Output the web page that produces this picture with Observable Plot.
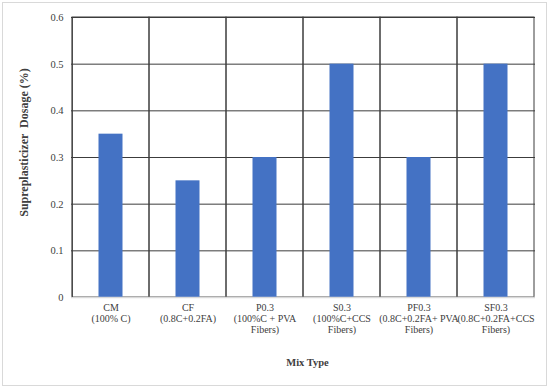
<!DOCTYPE html>
<html>
<head>
<meta charset="utf-8">
<script src="https://cdn.jsdelivr.net/npm/d3@7"></script>
<script src="https://cdn.jsdelivr.net/npm/@observablehq/plot@0.6"></script>
<style>
  html, body { margin: 0; padding: 0; background: #fff; }
  #wrap { position: relative; width: 550px; height: 389px; }
  #border { position: absolute; left: 2px; top: 2px; width: 543px; height: 382px; border: 1px solid #d9d9d9; pointer-events: none; }
  g[aria-label="ytitle"] text { letter-spacing: 1.1px; }
</style>
</head>
<body>
<div id="wrap"><div id="border"></div></div>
<script>
const mixTypes = ["CM", "CF", "P0.3", "S0.3", "PF0.3", "SF0.3"];
const mixDescriptions = [
  "(100% C)",
  "(0.8C+0.2FA)",
  "(100%C + PVA\nFibers)",
  "(100%C+CCS\nFibers)",
  "(0.8C+0.2FA+ PVA\nFibers)",
  "(0.8C+0.2FA+CCS\nFibers)"
];
const dosage = [0.35, 0.25, 0.3, 0.5, 0.3, 0.5];
const yTicks = [0, 0.1, 0.2, 0.3, 0.4, 0.5, 0.6];

const data = mixTypes.map((m, i) => ({ mix: m, desc: mixDescriptions[i], value: dosage[i] }));
const descOf = new Map(data.map(d => [d.mix, d.desc]));

const serif = "'Liberation Serif', 'Times New Roman', serif";

const chart = Plot.plot({
  width: 550,
  height: 389,
  marginLeft: 71,
  marginRight: 15,
  marginTop: 17,
  marginBottom: 92,
  style: { fontFamily: serif, background: "transparent", overflow: "visible" },
  x: { domain: mixTypes, padding: 0, label: null },
  y: { domain: [0, 0.6], label: null },
  marks: [
    Plot.ruleY(yTicks, { stroke: "#3c3c3c", strokeWidth: 1 }),
    Plot.rectY(data, { x: "mix", y1: 0, y2: 0.6, fill: "none", stroke: "#3c3c3c", strokeWidth: 1 }),
    Plot.barY(data, { x: "mix", y: "value", fill: "#4472C4", insetLeft: 26.5, insetRight: 26.5 }),
    Plot.ruleY([0], { stroke: "#d9d9d9", strokeWidth: 1.5 }),
    Plot.ruleX([mixTypes[0]], { y1: 0, y2: 0.6, stroke: "#3c3c3c", dx: -38.67 }),
    Plot.axisY({ ticks: yTicks, tickSize: 0, tickPadding: 8, tickFormat: d => String(+d.toFixed(1)), fontSize: 10.5, fill: "#404040", label: null }),
    Plot.axisX({ tickSize: 0, tickPadding: 6, tickFormat: d => d + "\n" + descOf.get(d), fontSize: 10, lineHeight: 1.1, fill: "#404040", label: null }),
    Plot.text(["Mix Type"], { frameAnchor: "bottom", dy: 68, text: d => d, fontSize: 10.5, fontWeight: "bold", fill: "#404040", dx: 4 }),
    Plot.text(["Supreplasticizer  Dosage (%)"], { ariaLabel: "ytitle", frameAnchor: "left", textAnchor: "middle", dx: -47, dy: -15, rotate: -90, text: d => d, fontSize: 12, fontWeight: "bold", fill: "#404040" })
  ]
});
document.getElementById("wrap").appendChild(chart);
</script>
</body>
</html>
